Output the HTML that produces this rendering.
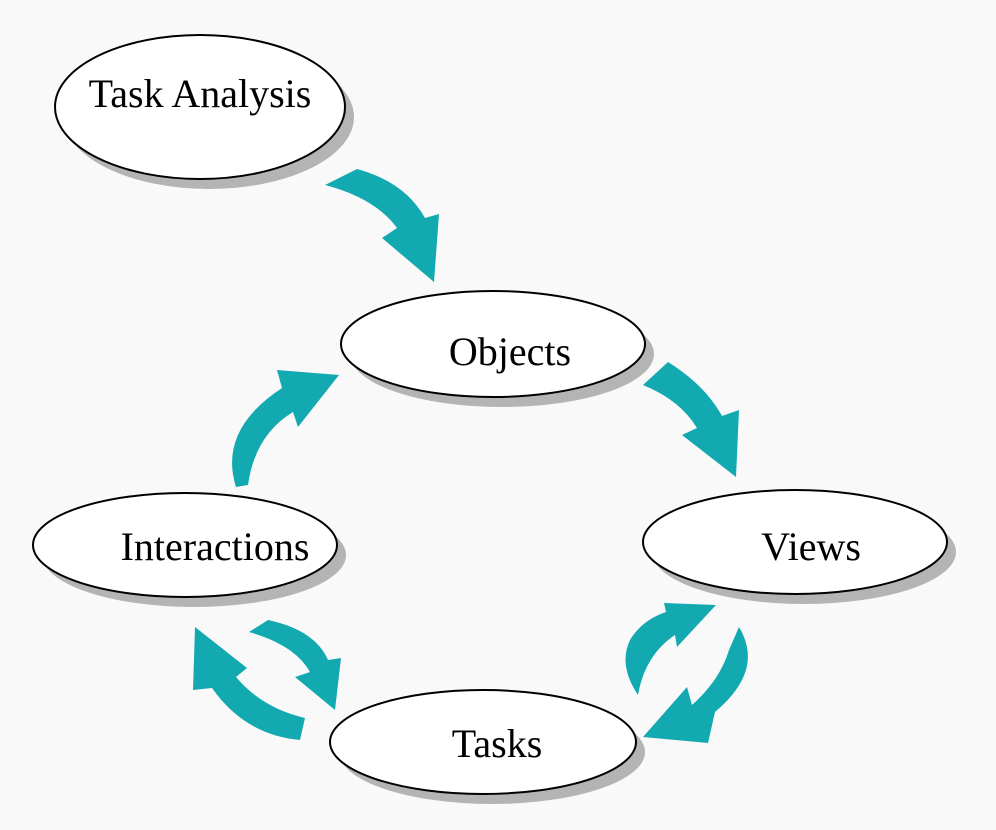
<!DOCTYPE html>
<html><head><style>html,body{margin:0;padding:0;background:#f9f9f9}svg{display:block}</style></head>
<body>
<svg width="996" height="830" viewBox="0 0 996 830" xmlns="http://www.w3.org/2000/svg">
<rect width="996" height="830" fill="#f9f9f9"/>
<g fill="#b4b4b4">
<ellipse cx="209" cy="117" rx="145" ry="72"/>
<ellipse cx="502" cy="354" rx="152" ry="53"/>
<ellipse cx="194" cy="555" rx="152" ry="52"/>
<ellipse cx="804" cy="552" rx="152" ry="52"/>
<ellipse cx="492" cy="752" rx="153" ry="52"/>
</g>
<g fill="#fff" stroke="#000" stroke-width="2">
<ellipse cx="200" cy="107" rx="145" ry="72"/>
<ellipse cx="493" cy="344" rx="152" ry="53"/>
<ellipse cx="185" cy="545" rx="152" ry="52"/>
<ellipse cx="795" cy="542" rx="152" ry="52"/>
<ellipse cx="483" cy="742" rx="153" ry="52"/>
</g>
<g fill="#12a9b1">
<path d="M325,185 L357,169 Q405,182 425,218 L439,214 L434,282 L382,238 L397,228 Q375,198 325,185 Z"/>
<path d="M668,362 Q705,385 722,416 L739,410 L736,477 L682,435 L697,428 Q680,400 643,385 Z"/>
<path d="M236,487 Q218,430 282,388 L277,370 L339,375 L298,427 L293,412 Q255,435 248,485 Z"/>
<path d="M195,627 L247,668 L236,677 Q262,708 305,718 L300,740 Q245,735 212,688 L193,690 Z"/>
<path d="M249,632 L268,620 Q315,630 328,660 L341,658 L335,710 L295,677 L310,672 Q295,645 249,632 Z"/>
<path d="M664,603 L716,605 L677,647 L675,635 Q645,655 638,695 Q618,665 630,640 Q642,620 666,612 Z"/>
<path d="M739,627 Q765,670 715,712 L708,743 L643,737 L687,687 L692,705 Q720,680 729,650 Z"/>
</g>
<g font-family="'Liberation Serif', serif" font-size="40" fill="#000">
<text x="200" y="107" text-anchor="middle">Task Analysis</text>
<text x="510" y="365" text-anchor="middle">Objects</text>
<text x="215" y="560" text-anchor="middle">Interactions</text>
<text x="811" y="560" text-anchor="middle">Views</text>
<text x="497" y="757" text-anchor="middle">Tasks</text>
</g>
</svg>
</body></html>
